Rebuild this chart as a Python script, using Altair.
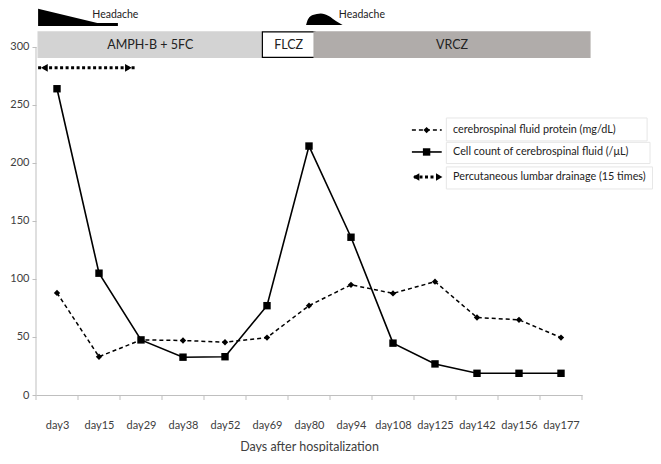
import altair as alt
import pandas as pd

# ---------------- data ----------------
days = ["day3", "day15", "day29", "day38", "day52", "day69", "day80",
        "day94", "day108", "day125", "day142", "day156", "day177"]
protein = [88, 33, 47.5, 47, 45.5, 49.5, 77, 95, 87.6, 97.7, 66.8, 64.8, 49.5]
cells = [264, 105, 47.5, 32.6, 33, 77, 214.6, 136, 44.7, 26.8, 18.7, 18.7, 18.7]

# treatment bars (x in category units, 0..13)
drug_names = ["AMPH-B + 5FC", "FLCZ", "VRCZ"]
drug_start = [0.05, 5.39, 6.62]
drug_end = [5.39, 6.64, 13.19]
drug_fill = ["#d3d3d3", "#ffffff", "#b0acaa"]
drug_stroke = ["#d3d3d3", "#000000", "#b0acaa"]

# headache shapes
head1_x = [0.05, 1.46, 1.95]
head1_y = [333, 320.7, 320.7]
head2_x = [6.43, 6.48, 6.59, 6.78, 6.97, 7.14, 7.30]
head2_y = [319, 324.1, 327.6, 328.9, 326.7, 322.4, 319]
head_text_x = [1.34, 7.21]
head_text = ["Headache", "Headache"]

# drainage arrow
drain_x = [0.05, 2.35]

# legend
leg_labels = ["cerebrospinal fluid protein (mg/dL)",
              "Cell count of cerebrospinal fluid (/\u03bcL)",
              "Percutaneous lumbar drainage (15 times)"]
leg_y = [228.4, 209.5, 187.9]
leg_box_y = [238.8, 217.8, 196.6]
leg_box_y2 = [219.0, 199.5, 177.6]
leg_box_x2 = [14.55, 14.62, 14.68]

FONT = "Lato"
YMAX = 333.6
W, H = 546, 387
N = len(days)

df = pd.DataFrame({
    "pos": [i + 0.5 for i in range(N)] * 2,
    "value": protein + cells,
    "series": ["protein"] * N + ["cells"] * N,
})

yscale = alt.Scale(domain=[0, YMAX], nice=False, zero=True)
xq = alt.Scale(domain=[0, N], nice=False, zero=False)

label_expr = "[" + ",".join("'%s'" % d for d in days) + "][floor(datum.value)]"
X_AXIS = alt.Axis(values=[i + 0.5 for i in range(N)], labelExpr=label_expr,
                  ticks=False, labelAngle=0, domainColor="#bfbfbf", grid=False,
                  labelPadding=24, labelColor="#404040", labelFont=FONT,
                  labelFontSize=11, labelFlush=False, labelOverlap=False,
                  title="Days after hospitalization", titleFont=FONT,
                  titleFontSize=12.5, titleFontWeight="normal",
                  titleColor="#404040", titlePadding=10)
Y_AXIS = alt.Axis(values=[0, 50, 100, 150, 200, 250, 300], domain=False,
                  grid=False, tickColor="#bfbfbf", tickSize=4, labelPadding=3,
                  labelColor="#404040", labelFont=FONT, labelFontSize=11,
                  title=None)


def XQ(field):
    return alt.X(field, type="quantitative", scale=xq, axis=X_AXIS)


def YQ(field):
    return alt.Y(field, type="quantitative", scale=yscale, axis=Y_AXIS)


base = alt.Chart(df)
prot = base.transform_filter(alt.datum.series == "protein")
cell = base.transform_filter(alt.datum.series == "cells")
prot_line = prot.mark_line(color="black", strokeWidth=1.5, strokeDash=[4, 3]).encode(
    x=XQ("pos"), y=YQ("value"))
prot_pts = prot.mark_point(shape="diamond", filled=True, color="black", size=40,
                           opacity=1).encode(x=XQ("pos"), y=YQ("value"))
cell_line = cell.mark_line(color="black", strokeWidth=1.6).encode(x=XQ("pos"), y=YQ("value"))
cell_pts = cell.mark_point(shape="square", filled=True, color="black", size=55,
                           opacity=1).encode(x=XQ("pos"), y=YQ("value"))

# y axis line (0..300) and x ticks at category boundaries
yline = alt.Chart(pd.DataFrame({"x": [0], "y0": [0], "y1": [300]})).mark_rule(
    color="#bfbfbf", strokeWidth=1).encode(x=XQ("x"), y=YQ("y0"), y2="y1")
xticks = alt.Chart(pd.DataFrame({"b": list(range(N + 1))})).mark_rule(
    color="#bfbfbf", strokeWidth=1).encode(
    x=XQ("b"), y=alt.value(H), y2=alt.value(H + 5))

# treatment bars
drug_df = pd.DataFrame({"name": drug_names, "x0": drug_start, "x1": drug_end,
                        "fill": drug_fill, "stroke": drug_stroke,
                        "mid": [(a + b) / 2 for a, b in zip(drug_start, drug_end)],
                        "y0": [291] * 3, "y1": [313] * 3, "ym": [302] * 3})
bars = alt.Chart(drug_df).mark_rect(strokeWidth=1.2).encode(
    x=XQ("x0"), x2="x1", y=YQ("y0"), y2="y1",
    fill=alt.Fill("fill:N", scale=None), stroke=alt.Stroke("stroke:N", scale=None))
bar_text = alt.Chart(drug_df).mark_text(font=FONT, fontSize=12.5, color="#222222").encode(
    x=XQ("mid"), y=YQ("ym"), text="name:N")

# headaches
h1 = alt.Chart(pd.DataFrame({"x": head1_x, "y": head1_y, "b": [318] * 3})).mark_area(
    color="black", opacity=1).encode(x=XQ("x"), y=YQ("y"), y2="b")
h2 = alt.Chart(pd.DataFrame({"x": head2_x, "y": head2_y, "b": [319] * 7})).mark_area(
    color="black", opacity=1, interpolate="monotone").encode(x=XQ("x"), y=YQ("y"), y2="b")
htext = alt.Chart(pd.DataFrame({"x": head_text_x, "y": [327.5, 327.5], "t": head_text})).mark_text(
    font=FONT, fontSize=10.5, color="#222222", align="left").encode(
    x=XQ("x"), y=YQ("y"), text="t:N")

# drainage arrow on plot
arr_df = pd.DataFrame({"x": drain_x, "y": [282, 282]})
arr_line = alt.Chart(arr_df).mark_line(color="black", strokeWidth=3, strokeDash=[3, 2.5]).encode(
    x=XQ("x"), y=YQ("y"))
arr_heads = alt.Chart(pd.DataFrame({"x": [0.2, 2.2], "y": [282, 282],
                                    "s": ["triangle-left", "triangle-right"]})).mark_point(
    filled=True, color="black", size=60, opacity=1).encode(
    x=XQ("x"), y=YQ("y"), shape=alt.Shape("s:N", scale=None))

# legend
leg_df = pd.DataFrame({"label": leg_labels, "y": leg_y, "by": leg_box_y,
                       "by2": leg_box_y2, "bx2": leg_box_x2,
                       "bx": [9.77] * 3, "tx": [9.93] * 3})
leg_box = alt.Chart(leg_df).mark_rect(fill="white", stroke="#e6e6e6", strokeWidth=1).encode(
    x=XQ("bx"), x2="bx2", y=YQ("by"), y2="by2")
leg_text = alt.Chart(leg_df).mark_text(font=FONT, fontSize=10.8, color="#222222",
                                       align="left").encode(
    x=XQ("tx"), y=YQ("y"), text="label:N")
l1 = alt.Chart(pd.DataFrame({"x": [8.95, 9.66], "y": [leg_y[0]] * 2})).mark_line(
    color="black", strokeWidth=1.5, strokeDash=[4, 3]).encode(x=XQ("x"), y=YQ("y"))
l1p = alt.Chart(pd.DataFrame({"x": [9.30], "y": [leg_y[0]]})).mark_point(
    shape="diamond", filled=True, color="black", size=40, opacity=1).encode(x=XQ("x"), y=YQ("y"))
l2 = alt.Chart(pd.DataFrame({"x": [8.95, 9.66], "y": [leg_y[1]] * 2})).mark_line(
    color="black", strokeWidth=1.6).encode(x=XQ("x"), y=YQ("y"))
l2p = alt.Chart(pd.DataFrame({"x": [9.30], "y": [leg_y[1]]})).mark_point(
    shape="square", filled=True, color="black", size=55, opacity=1).encode(x=XQ("x"), y=YQ("y"))
l3 = alt.Chart(pd.DataFrame({"x": [9.0, 9.62], "y": [leg_y[2]] * 2})).mark_line(
    color="black", strokeWidth=3, strokeDash=[3, 2.5]).encode(x=XQ("x"), y=YQ("y"))
l3p = alt.Chart(pd.DataFrame({"x": [9.05, 9.6], "y": [leg_y[2]] * 2,
                              "s": ["triangle-left", "triangle-right"]})).mark_point(
    filled=True, color="black", size=55, opacity=1).encode(
    x=XQ("x"), y=YQ("y"), shape=alt.Shape("s:N", scale=None))

chart = alt.layer(
    prot_line, cell_line, prot_pts, cell_pts, yline, xticks,
    bars, bar_text, h1, h2, htext, arr_line, arr_heads,
    leg_box, leg_text, l1, l1p, l2, l2p, l3, l3p
).properties(
    width=W, height=H,
    autosize=alt.AutoSizeParams(type="none"),
    padding={"left": 28, "top": 0, "right": 71, "bottom": 57},
).configure_view(stroke=None)

chart.save("out.html", embed_options={"renderer": "svg", "actions": False})
